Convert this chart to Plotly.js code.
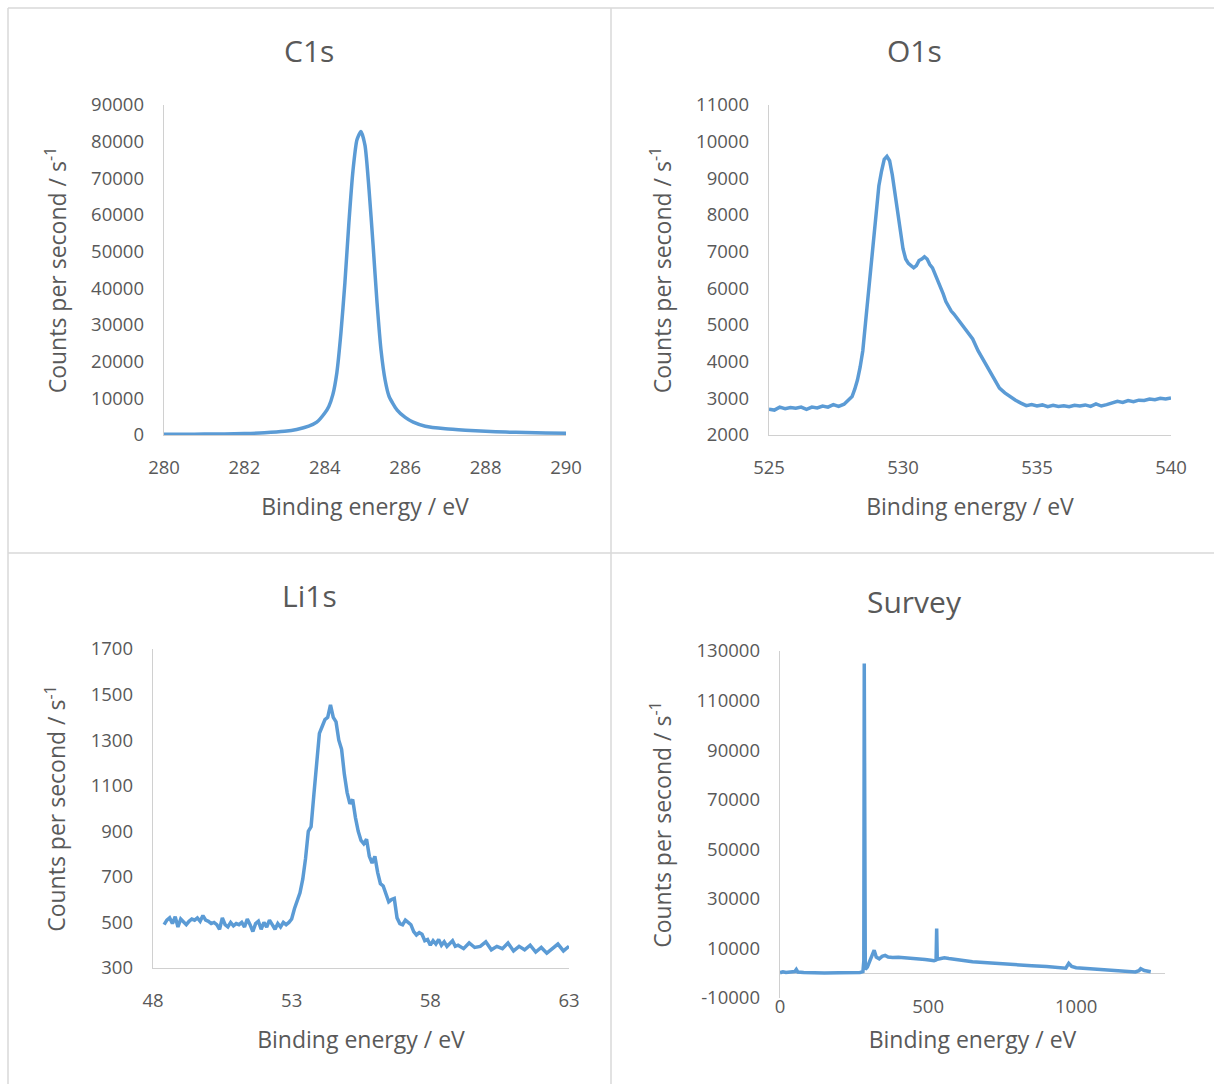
<!DOCTYPE html>
<html>
<head>
<meta charset="utf-8">
<script src="https://cdn.plot.ly/plotly-3.0.1.min.js"></script>
<style>
  html, body { margin: 0; padding: 0; background: #ffffff; }
  #chart { width: 1214px; height: 1084px; }
</style>
</head>
<body>
<div id="chart"></div>
<script>
// ---------------- DATA ----------------
const panelTitles = ['C1s', 'O1s', 'Li1s', 'Survey'];
const xAxisTitle = 'Binding energy / eV';
const yAxisTitle = 'Counts per second / s<sup>-1</sup>';

const c1sEnergy = [280,280.5,281,281.5,282,282.5,283,283.3,283.6,283.8,
  284.0,284.1,284.2,284.3,284.4,284.5,284.6,284.7,284.8,284.9,
  285.0,285.1,285.2,285.3,285.4,285.5,285.6,
  285.8,286.0,286.2,286.5,287,287.5,288,288.5,289,289.5,290];
const c1sCounts = [180,200,250,300,400,600,1000,1500,2400,3500,
  6000,7800,11000,17000,27700,41500,58000,72000,80500,82800,
  79000,67000,52000,36000,23000,15000,10500,
  6800,4800,3500,2400,1700,1300,1000,800,650,550,500];

const o1sEnergy = [525.0,525.2,525.4,525.6,525.8,526.0,526.2,526.4,526.6,526.8,527.0,527.2,527.4,527.6,527.8,528.0,
  528.1,528.2,528.3,528.4,528.5,528.6,528.7,528.8,528.9,529.0,
  529.1,529.2,529.3,529.4,529.5,529.6,529.7,529.8,529.9,530.0,
  530.1,530.2,530.3,530.4,530.5,530.6,530.7,530.8,530.9,531.0,
  531.1,531.2,531.3,531.4,531.5,531.6,531.7,531.8,531.9,532.0,
  532.2,532.4,532.6,532.8,533.0,533.2,533.4,533.6,533.8,534.0,
  534.2,534.4,534.6,534.8,535.0,535.2,535.4,535.6,535.8,536.0,
  536.2,536.4,536.6,536.8,537.0,537.2,537.4,537.6,537.8,538.0,
  538.2,538.4,538.6,538.8,539.0,539.2,539.4,539.6,539.8,540.0];
const o1sCounts = [2700,2680,2760,2720,2750,2730,2760,2700,2760,2740,2790,2760,2830,2780,2840,2960,
  3050,3250,3500,3850,4300,5050,5800,6600,7400,8200,
  8800,9200,9520,9600,9480,9100,8600,8000,7450,7080,
  6800,6680,6620,6560,6620,6760,6800,6860,6800,6650,
  6560,6380,6260,6020,5850,5640,5500,5380,5300,5200,
  5000,4800,4620,4300,4050,3780,3550,3280,3150,3040,
  2950,2870,2800,2830,2790,2820,2770,2810,2780,2800,
  2770,2810,2790,2820,2780,2850,2790,2830,2880,2920,
  2890,2940,2910,2950,2940,2980,2960,3000,2980,3010];

const li1sEnergy = [48.4,48.5,48.6,48.7,48.8,48.9,49.0,49.1,49.2,49.3,
  49.4,49.5,49.6,49.7,49.8,49.9,50.0,50.1,50.2,50.3,
  50.4,50.5,50.6,50.7,50.8,50.9,51.0,51.1,51.2,51.3,
  51.4,51.5,51.6,51.7,51.8,51.9,52.0,52.1,52.2,52.3,
  52.4,52.5,52.6,52.7,52.8,52.9,53.0,53.1,53.2,53.3,
  53.4,53.5,53.6,53.7,53.8,53.9,54.0,54.1,54.2,54.3,
  54.4,54.5,54.6,54.7,54.8,54.9,55.0,55.1,55.2,55.3,
  55.4,55.5,55.6,55.7,55.8,55.9,56.0,56.1,56.2,56.3,
  56.4,56.5,56.6,56.7,56.8,56.9,57.0,57.1,57.2,57.3,
  57.4,57.5,57.6,57.7,57.8,57.9,58.0,58.1,58.2,58.3,
  58.4,58.5,58.6,58.7,58.8,58.9,59.0,
  59.2,59.4,59.6,59.8,60.0,60.2,60.4,60.6,60.8,61.0,
  61.2,61.4,61.6,61.8,62.0,62.2,62.4,62.6,62.8,63.0];
const li1sCounts = [490,510,520,495,525,480,515,500,490,505,
  515,510,520,505,530,510,505,495,500,490,
  470,520,490,480,500,485,495,490,500,480,
  515,490,460,495,505,470,500,480,510,490,
  470,495,480,500,490,500,515,560,590,630,
  690,780,900,920,1060,1180,1330,1360,1390,1400,
  1455,1400,1380,1300,1260,1150,1070,1020,1040,960,
  900,860,845,865,790,760,790,720,670,660,
  620,590,600,605,520,495,490,510,500,490,
  460,445,455,448,420,425,400,420,405,425,
  400,415,395,410,420,395,400,
  385,410,390,395,415,380,395,385,410,375,
  395,380,400,370,390,365,385,405,375,395];

const surveyEnergy = [0,10,20,30,40,50,55,60,80,100,
  150,200,250,270,280,283,284.5,286,288,295,
  305,318,325,335,345,355,365,380,400,430,
  460,490,510,520,527,529,531,545,555,570,
  600,650,700,750,800,850,900,950,965,975,
  985,1000,1050,1100,1150,1200,1212,1218,1230,1245,1252];
const surveyCounts = [200,600,300,500,400,700,1500,500,300,200,
  100,150,200,300,600,5000,125000,8000,1500,2500,
  5500,9300,6500,5800,6800,7200,6500,6300,6400,6200,
  5900,5500,5200,5000,5300,18000,5600,5900,6200,5900,
  5400,4600,4200,3700,3400,3000,2700,2200,2000,4000,
  2700,2200,1700,1300,900,500,1000,1800,1100,700,600];

// tick values / labels
const c1sXTicks = [280,282,284,286,288,290];
const c1sYTicks = [0,10000,20000,30000,40000,50000,60000,70000,80000,90000];
const o1sXTicks = [525,530,535,540];
const o1sYTicks = [2000,3000,4000,5000,6000,7000,8000,9000,10000,11000];
const li1sXTicks = [48,53,58,63];
const li1sYTicks = [300,500,700,900,1100,1300,1500,1700];
const surveyXTicks = [0,500,1000];
const surveyYTicks = [-10000,10000,30000,50000,70000,90000,110000,130000];
const surveyYTickLabels = ['-10000','10000','30000','50000','70000','90000','110000','130000'];

// ---------------- STYLE / LAYOUT ----------------
const W = 1214, H = 1084;
const FONT = '"Open Sans", "Noto Sans", sans-serif';
const TEXT = '#595959';
const AXISLINE = '#d0d0d0';
const BLUE = '#5B9BD5';

const px = v => v / W;
const py = v => 1 - v / H;

function xAx(domPx, range, ticks, labels, opts) {
  return Object.assign({
    domain: [px(domPx[0]), px(domPx[1])],
    range: range, tickmode: 'array', tickvals: ticks,
    ticktext: labels || ticks.map(String),
    showline: true, linecolor: AXISLINE, linewidth: 1.3,
    showgrid: false, zeroline: false, ticks: '',
    tickfont: {family: FONT, size: 18.5, color: TEXT},
    ticklabelstandoff: 15,
    title: {text: xAxisTitle, font: {family: FONT, size: 23, color: TEXT}, standoff: 21},
    fixedrange: true
  }, opts || {});
}
function yAx(domPx, range, ticks, labels, opts) {
  return Object.assign({
    domain: [py(domPx[1]), py(domPx[0])],
    range: range, tickmode: 'array', tickvals: ticks,
    ticktext: labels || ticks.map(String),
    showline: true, linecolor: AXISLINE, linewidth: 1.3,
    showgrid: false, zeroline: false, ticks: '',
    tickfont: {family: FONT, size: 18.5, color: TEXT},
    ticklabelstandoff: 15,
    title: {text: yAxisTitle, font: {family: FONT, size: 23, color: TEXT}, standoff: 18},
    fixedrange: true
  }, opts || {});
}

const line = {color: BLUE, width: 3.5};
const traces = [
  {x: c1sEnergy, y: c1sCounts, xaxis: 'x', yaxis: 'y', mode: 'lines', line: Object.assign({shape: 'spline', smoothing: 0.6}, line), hoverinfo: 'skip'},
  {x: o1sEnergy, y: o1sCounts, xaxis: 'x2', yaxis: 'y2', mode: 'lines', line: line, hoverinfo: 'skip'},
  {x: li1sEnergy, y: li1sCounts, xaxis: 'x3', yaxis: 'y3', mode: 'lines', line: line, hoverinfo: 'skip'},
  {x: surveyEnergy, y: surveyCounts, xaxis: 'x4', yaxis: 'y4', mode: 'lines', line: line, hoverinfo: 'skip'}
];

const titleFont = {family: FONT, size: 30, color: TEXT};
const annotations = [
  {text: panelTitles[0], x: px(309), y: py(50)},
  {text: panelTitles[1], x: px(914), y: py(50)},
  {text: panelTitles[2], x: px(309), y: py(595)},
  {text: panelTitles[3], x: px(914), y: py(601)}
].map(a => Object.assign({xref: 'paper', yref: 'paper', xanchor: 'center', yanchor: 'middle', showarrow: false, font: titleFont}, a));

const border = {color: '#d9d9d9', width: 1.5};
const shapes = [
  {type: 'line', xref: 'paper', yref: 'paper', x0: px(8), x1: 1, y0: py(8), y1: py(8), line: border},
  {type: 'line', xref: 'paper', yref: 'paper', x0: px(8), x1: px(8), y0: py(8), y1: 0, line: border},
  {type: 'line', xref: 'paper', yref: 'paper', x0: px(611), x1: px(611), y0: py(8), y1: 0, line: border},
  {type: 'line', xref: 'paper', yref: 'paper', x0: px(8), x1: 1, y0: py(553), y1: py(553), line: border}
];

const layout = {
  width: W, height: H,
  margin: {l: 0, r: 0, t: 0, b: 0},
  paper_bgcolor: '#ffffff', plot_bgcolor: '#ffffff',
  showlegend: false,
  font: {family: FONT, color: TEXT},
  xaxis:  xAx([164, 566], [280, 290], c1sXTicks),
  yaxis:  yAx([105, 435], [0, 90000], c1sYTicks),
  xaxis2: xAx([769, 1171], [525, 540], o1sXTicks, null, {anchor: 'y2'}),
  yaxis2: yAx([105, 435], [2000, 11000], o1sYTicks, null, {anchor: 'x2'}),
  xaxis3: xAx([153, 569], [48, 63], li1sXTicks, null, {anchor: 'y3'}),
  yaxis3: yAx([649, 968], [300, 1700], li1sYTicks, null, {anchor: 'x3'}),
  xaxis4: xAx([780, 1165], [0, 1300], surveyXTicks, null,
              {anchor: 'y4', showline: false, ticklabelstandoff: -5,
               title: {text: xAxisTitle, font: {family: FONT, size: 23, color: TEXT}, standoff: 15}}),
  yaxis4: yAx([651, 998], [-10000, 130000], surveyYTicks, surveyYTickLabels,
              {anchor: 'x4', zeroline: true, zerolinecolor: AXISLINE, zerolinewidth: 1.3}),
  annotations: annotations,
  shapes: shapes
};

Plotly.newPlot('chart', traces, layout, {staticPlot: true, displayModeBar: false});
</script>
</body>
</html>
